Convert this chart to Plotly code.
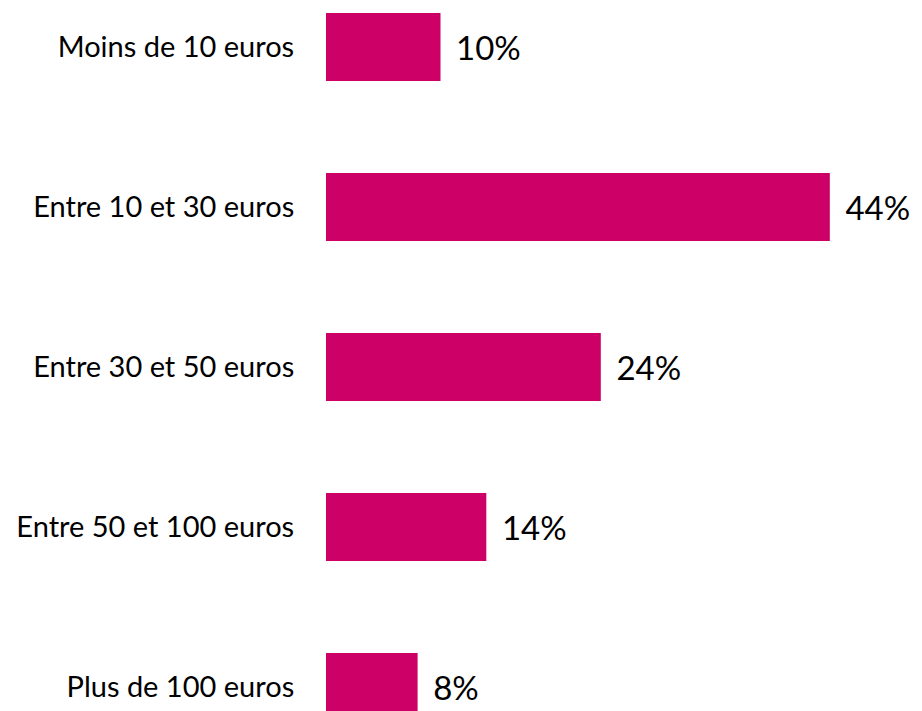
import plotly.graph_objects as go

categories = ["Moins de 10 euros", "Entre 10 et 30 euros", "Entre 30 et 50 euros",
              "Entre 50 et 100 euros", "Plus de 100 euros"]
values = [10, 44, 24, 14, 8]
value_labels = ["10%", "44%", "24%", "14%", "8%"]

fig = go.Figure(go.Bar(
    x=values,
    y=categories,
    orientation="h",
    text=[" \u2009" + t for t in value_labels],
    textposition="outside",
    constraintext="none",
    cliponaxis=False,
    textfont=dict(size=33, color="#000000", family="Lato"),
    marker=dict(color="#CC0066", line=dict(width=0)),
    width=0.425,
))

fig.update_layout(
    width=922, height=711,
    margin=dict(l=326, r=0, t=0, b=0),
    paper_bgcolor="white",
    plot_bgcolor="white",
    showlegend=False,
    font=dict(family="Lato", color="#000000"),
    xaxis=dict(range=[0, 52.05], visible=False),
    yaxis=dict(
        type="category",
        categoryorder="array",
        categoryarray=categories,
        range=[4.15, -0.29375],
        showgrid=False, zeroline=False, showline=False,
        ticks="outside", ticklen=25, tickcolor="rgba(0,0,0,0)",
        tickfont=dict(size=29, color="#000000", family="Lato"),
    ),
)

# page body margin would shift the chart by 8px
fig.write_html("out.html", config={"displayModeBar": False},
               post_script="document.body.style.margin='0';")
